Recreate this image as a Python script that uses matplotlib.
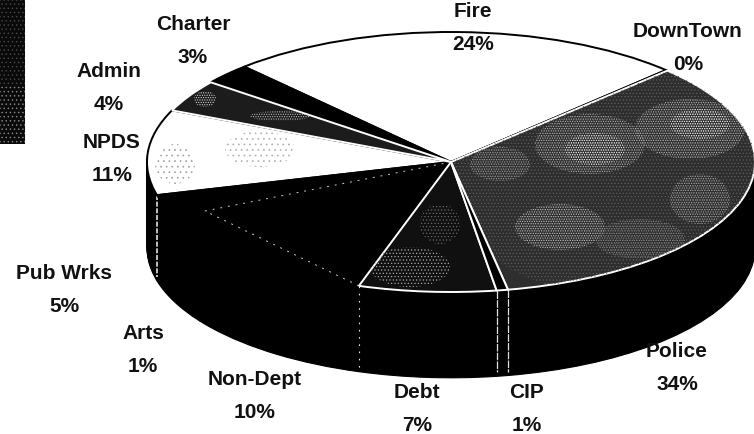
import numpy as np
import matplotlib
matplotlib.use("Agg")
import matplotlib.pyplot as plt
from matplotlib.patches import Ellipse, Rectangle

categories = ["Fire", "Charter", "Admin", "NPDS", "Pub Wrks", "Arts", "Non-Dept", "Debt", "CIP", "Police", "DownTown"]
values = [24.4, 2.6, 4.0, 10.6, 5.4, 1.0, 9.6, 7.3, 0.6, 34.4, 0.1]

W, H = 754, 435
CX, CY, RX, RY = 451, 163, 304, 130   # pie centre and radii in pixels
DEPTH = 0.66

plt.rcParams["font.family"] = ["Liberation Sans", "DejaVu Sans"]
plt.rcParams["hatch.linewidth"] = 0.5

fig = plt.figure(figsize=(W / 100, H / 100), dpi=100, facecolor="white")
ax = fig.add_axes([0, 0, 1, 1])

def px(x, y):
    return (x - CX) / RX, (CY - y) / RY

START = 45
# side of the disc: stacked copies of the pie, lowest first
side_colors = ["black"] * len(values)
side_colors[categories.index("NPDS")] = "#303030"
for d in np.linspace(DEPTH, 0.01, 70):
    ax.pie(values, startangle=START, counterclock=True, radius=1, center=(0, -d),
           colors=side_colors, wedgeprops=dict(linewidth=0.8, edgecolor="black"),
           normalize=True, frame=False)

# top face
face = {"Fire": "white", "Charter": "black", "Admin": "#1c1c1c", "NPDS": "white",
        "Pub Wrks": "black", "Arts": "black", "Non-Dept": "black", "Debt": "#101010",
        "CIP": "black", "Police": "#2e2e2e", "DownTown": "black"}
edge = {"Fire": "black", "Charter": "black", "Admin": "white", "NPDS": "black",
        "Pub Wrks": "black", "Arts": "black", "Non-Dept": "black", "Debt": "white",
        "CIP": "white", "Police": "white", "DownTown": "black"}
wedges, _ = ax.pie(values, startangle=START, counterclock=True, radius=1, center=(0, 0),
                   colors=[face[c] for c in categories], normalize=True, frame=False)
wmap = dict(zip(categories, wedges))
for c, w in wmap.items():
    w.set_edgecolor(edge[c])
    w.set_linewidth(1.4)
    w.set_zorder(3 if c in ("Police", "Debt", "CIP") else 2)
wmap["CIP"].set_zorder(4)
wmap["Admin"].set_zorder(2.5)

# halftone texture, clipped to the wedges
fine = "." * 5
finer = "." * 7
blotches = [
    ("Police", 610, 180, 320, 230, fine, "#5e5e5e"),
    ("Police", 590, 145, 110, 60, finer, "#b8b8b8"),
    ("Police", 595, 150, 60, 32, finer, "#e4e4e4"),
    ("Police", 690, 130, 110, 60, finer, "#bcbcbc"),
    ("Police", 700, 125, 60, 30, finer, "#e8e8e8"),
    ("Police", 560, 228, 90, 46, finer, "#c4c4c4"),
    ("Police", 500, 165, 60, 34, finer, "#a0a0a0"),
    ("Police", 700, 200, 60, 50, finer, "#a8a8a8"),
    ("Police", 640, 240, 90, 40, finer, "#8c8c8c"),
    ("Debt", 410, 268, 80, 40, fine, "#a8a8a8"),
    ("Debt", 440, 225, 40, 40, fine, "#6c6c6c"),
    ("Admin", 280, 117, 60, 10, finer, "#c8c8c8"),
    ("Admin", 205, 100, 22, 16, finer, "#e4e4e4"),
    ("NPDS", 175, 165, 40, 40, "...", "#a0a0a0"),
    ("NPDS", 260, 150, 70, 36, "...", "#b0b0b0"),
]
for name, x, y, w, h, hatch, col in blotches:
    cx, cy = px(x, y)
    e = Ellipse((cx, cy), w / RX, h / RY, facecolor="none", edgecolor=col, hatch=hatch,
                linewidth=0, zorder=wmap[name].get_zorder() + 0.1)
    ax.add_patch(e)
    e.set_clip_path(wmap[name])

# dotted wedge outlines inside the black part
theta = {}
cum = START
for c, v in zip(categories, values):
    cum += v * 3.6
    theta[c] = np.radians(cum)
kink = px(205, 212)
nd = (np.cos(theta["Non-Dept"]), np.sin(theta["Non-Dept"]))
ax.plot([0, kink[0], nd[0]], [0, kink[1], nd[1]], color="#cccccc", lw=0.7,
        ls=(0, (2, 6)), zorder=2.6)

# seams on the side of the disc
for t, ls, lw in [(theta["NPDS"], (0, (3, 1)), 1.2), (theta["Non-Dept"], (0, (1.5, 5)), 0.8),
                  (theta["Debt"], (0, (6, 1)), 0.9), (theta["CIP"], (0, (6, 1)), 0.9)]:
    x, y = np.cos(t), np.sin(t)
    ax.plot([x, x], [y, y - DEPTH + 0.03], color="#e0e0e0", lw=lw, ls=ls, zorder=1.5)

# dark strip at the top-left corner
ax.add_patch(Rectangle((0, 0.8), 25 / W, 0.2, transform=ax.transAxes, facecolor="#0a0a0a",
                       edgecolor="#4a4a4a", hatch="....", linewidth=0, zorder=1))
ax.add_patch(Rectangle((0, 0.667), 25 / W, 0.133, transform=ax.transAxes, facecolor="#0a0a0a",
                       edgecolor="#8c8c8c", hatch="....", linewidth=0, zorder=1))

ax.set_aspect("auto")
ax.set_xlim(-CX / RX, (W - CX) / RX)
ax.set_ylim((CY - H) / RY, CY / RY)
ax.axis("off")

# labels
label_xy = {"Fire": (473, 28), "Charter": (193, 41), "Admin": (109, 88), "NPDS": (112, 159),
            "Pub Wrks": (64, 290), "Arts": (143, 350), "Non-Dept": (255, 396), "Debt": (417, 409),
            "CIP": (527, 409), "Police": (677, 368), "DownTown": (688, 48)}
for c, v in zip(categories, values):
    x, y = label_xy[c]
    fig.text(x / W, 1 - y / H, f"{c}\n{v:.0f}%", ha="center", va="center", fontsize=15,
             fontweight="bold", color="#111111", linespacing=1.9, zorder=10)

fig.savefig("out.png", dpi=100)
